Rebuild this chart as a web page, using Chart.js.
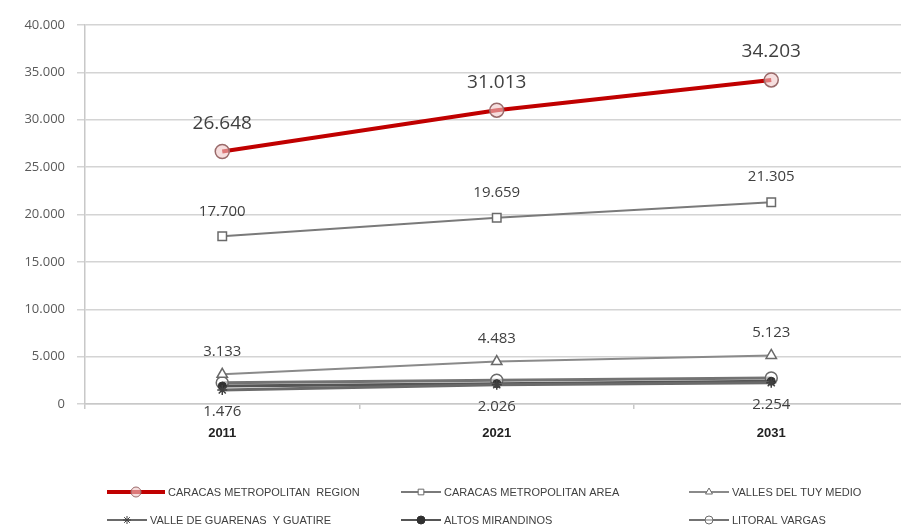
<!DOCTYPE html>
<html>
<head>
<meta charset="utf-8">
<script src="https://cdn.jsdelivr.net/npm/chart.js@4.4.1/dist/chart.umd.min.js"></script>
<style>
  html, body { margin: 0; padding: 0; background: #fff; overflow: hidden; }
  #wrap { width: 901px; height: 532px; overflow: hidden; }
  canvas { display: block; }
</style>
</head>
<body>
<div id="wrap"><canvas id="popChart" width="917" height="532"></canvas></div>
<script>
// Population (thousands) by region, projection years
const years = ['2011', '2021', '2031'];
const seriesNames = [
  'CARACAS METROPOLITAN  REGION',
  'CARACAS METROPOLITAN AREA',
  'VALLES DEL TUY MEDIO',
  'VALLE DE GUARENAS  Y GUATIRE',
  'ALTOS MIRANDINOS',
  'LITORAL VARGAS'
];
const metroRegion = [26648, 31013, 34203];
const metroArea = [17700, 19659, 21305];
const tuyMedio = [3133, 4483, 5123];
const guarenasGuatire = [1476, 2026, 2254];
const altosMirandinos = [1900, 2150, 2400];
const litoralVargas = [2250, 2500, 2750];
const yMax = 40000;
const yStep = 5000;

const fmt = v => String(v).replace(/\B(?=(\d{3})+(?!\d))/g, '.');

const datasets = [
  {
    label: seriesNames[0], data: metroRegion,
    borderColor: '#c00000', borderWidth: 4,
    pointStyle: 'circle', pointRadius: 7, pointBorderWidth: 1.5,
    pointBorderColor: '#9a6a6a', pointBackgroundColor: 'rgba(240,200,200,0.6)',
    labelPos: 'above', labelSize: 19, labelGap: 28
  },
  {
    label: seriesNames[1], data: metroArea,
    borderColor: '#7a7a7a', borderWidth: 2,
    pointStyle: 'rect', pointRadius: 6, pointBorderWidth: 1.5,
    pointBorderColor: '#6a6a6a', pointBackgroundColor: '#ffffff',
    labelPos: 'above', labelSize: 15, labelGap: 25
  },
  {
    label: seriesNames[2], data: tuyMedio,
    borderColor: '#8a8a8a', borderWidth: 2,
    pointStyle: 'triangle', pointRadius: 6, pointBorderWidth: 1.5,
    pointBorderColor: '#6a6a6a', pointBackgroundColor: '#ffffff',
    labelPos: 'above', labelSize: 15, labelGap: 23
  },
  {
    label: seriesNames[3], data: guarenasGuatire,
    borderColor: '#6a6a6a', borderWidth: 3,
    pointStyle: 'star', pointRadius: 5, pointBorderWidth: 1.5,
    pointBorderColor: '#404040', pointBackgroundColor: '#404040',
    labelPos: 'below', labelSize: 15, labelGap: 22
  },
  {
    label: seriesNames[4], data: altosMirandinos,
    borderColor: '#555555', borderWidth: 3,
    pointStyle: 'circle', pointRadius: 4, pointBorderWidth: 1,
    pointBorderColor: '#303030', pointBackgroundColor: '#303030',
    labelPos: null
  },
  {
    label: seriesNames[5], data: litoralVargas,
    borderColor: '#737373', borderWidth: 3,
    pointStyle: 'circle', pointRadius: 6, pointBorderWidth: 1.5,
    pointBorderColor: '#6a6a6a', pointBackgroundColor: 'rgba(255,255,255,0.5)',
    labelPos: null
  }
];

// Value labels above / below each point
const valueLabels = {
  id: 'valueLabels',
  afterDatasetsDraw(chart) {
    const ctx = chart.ctx;
    ctx.save();
    ctx.textAlign = 'center';
    ctx.textBaseline = 'middle';
    ctx.fillStyle = '#404040';
    chart.data.datasets.forEach((ds, i) => {
      if (!ds.labelPos) return;
      ctx.font = `${ds.labelSize}px "Open Sans", sans-serif`;
      chart.getDatasetMeta(i).data.forEach((pt, j) => {
        const dy = ds.labelPos === 'above' ? -ds.labelGap : ds.labelGap;
        ctx.fillText(fmt(ds.data[j]), pt.x, pt.y + dy);
      });
    });
    ctx.restore();
  }
};

// Three-column legend under the axis
const gridLegend = {
  id: 'gridLegend',
  afterDraw(chart) {
    const ctx = chart.ctx;
    const cols = [107, 401, 689];
    const rows = [492, 520];
    ctx.save();
    chart.data.datasets.forEach((ds, i) => {
      const x = cols[i % 3];
      const y = rows[Math.floor(i / 3)];
      const first = i === 0;
      ctx.strokeStyle = ds.borderColor;
      ctx.lineWidth = first ? 4 : 2;
      ctx.beginPath();
      ctx.moveTo(x, y);
      ctx.lineTo(x + (first ? 58 : 40), y);
      ctx.stroke();
      ctx.fillStyle = ds.pointBackgroundColor;
      ctx.strokeStyle = ds.pointBorderColor;
      ctx.lineWidth = 1;
      Chart.helpers.drawPoint(ctx, {
        pointStyle: ds.pointStyle,
        radius: first ? 5 : 4,
        borderWidth: 1
      }, x + (first ? 29 : 20), y);
      ctx.fillStyle = '#404040';
      ctx.font = '11px "Liberation Sans", sans-serif';
      ctx.textAlign = 'left';
      ctx.textBaseline = 'middle';
      ctx.fillText(ds.label, x + (first ? 61 : 43), y + 1);
    });
    ctx.restore();
  }
};

new Chart(document.getElementById('popChart'), {
  type: 'line',
  data: { labels: years, datasets },
  options: {
    responsive: false,
    animation: false,
    layout: { padding: { top: 25, right: 0, bottom: 88, left: 0 } },
    elements: { line: { tension: 0 } },
    scales: {
      x: {
        offset: true,
        grid: {
          offset: true, drawOnChartArea: false, drawTicks: true,
          tickLength: 5, color: '#c8c8c8', lineWidth: 1.5
        },
        border: { color: '#c8c8c8', width: 1.5 },
        ticks: {
          color: '#222', padding: 17,
          font: { family: '"Liberation Sans", sans-serif', size: 13, weight: 'bold' }
        },
        afterFit(scale) { scale.height = 40; }
      },
      y: {
        min: 0, max: yMax,
        ticks: {
          stepSize: yStep, color: '#595959', padding: 12,
          font: { family: '"Open Sans", sans-serif', size: 13 },
          callback: v => fmt(v)
        },
        grid: { color: '#d4d4d4', lineWidth: 1.5, tickLength: 8 },
        border: { color: '#c8c8c8', width: 1.5 },
        afterFit(scale) { scale.width = 85; }
      }
    },
    plugins: {
      legend: { display: false },
      tooltip: { enabled: false }
    }
  },
  plugins: [valueLabels, gridLegend]
});
</script>
</body>
</html>
